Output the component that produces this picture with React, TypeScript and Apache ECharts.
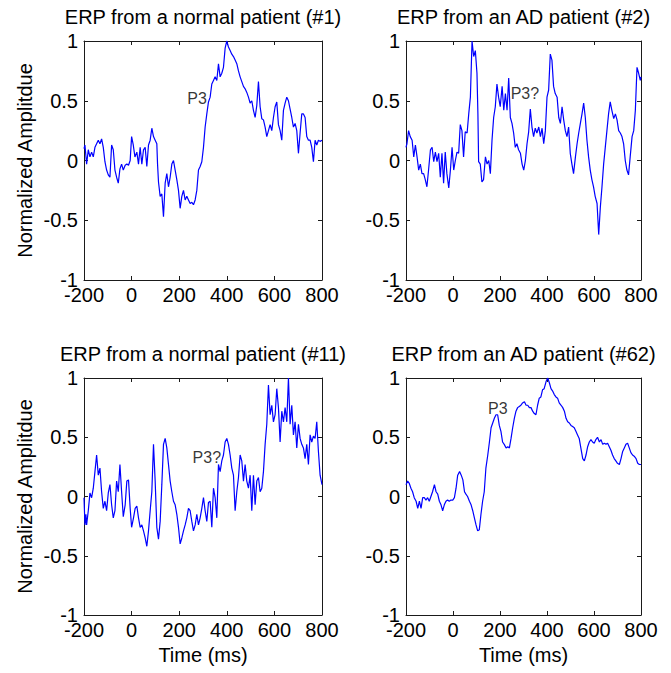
import React, { useEffect, useRef } from "react";
import * as echarts from "echarts";

const panelTitles = [
  "ERP from a normal patient (#1)",
  "ERP from an AD patient (#2)",
  "ERP from a normal patient (#11)",
  "ERP from an AD patient (#62)",
];
const yAxisTitle = "Normalized Amplitdue";
const xAxisTitle = "Time (ms)";
const xTicks = { min: -200, max: 800, interval: 200 };
const yTicks = { min: -1, max: 1, interval: 0.5 };

const annotationTexts = ["P3", "P3?", "P3?", "P3"];
const annotationPoints: [number, number][] = [
  [275, 0.52],
  [306, 0.56],
  [316, 0.33],
  [191, 0.74],
];

const erp1: [number, number][] = [
  [-200,0.10],[-196,0.13],[-189,-0.03],[-182,0.09],[-175,0.03],[-168,0.07],[-161,0.03],[-154,0.11],[-147,0.14],[-140,0.17],[-133,0.14],[-126,0.18],[-119,0.11],[-112,-0.01],[-105,-0.08],[-98,-0.12],[-91,-0.14],[-84,0.13],[-77,0.09],[-70,-0.08],[-63,-0.14],[-56,-0.19],[-49,-0.07],[-42,-0.03],[-35,-0.08],[-27,-0.04],[-20,-0.03],[-13,-0.04],[-6,0.0],[0,0.2],[7,0.13],[14,0.03],[22,0.07],[29,-0.03],[36,0.11],[43,-0.03],[50,0.09],[57,0.11],[64,-0.05],[71,0.13],[78,0.17],[85,0.27],[92,0.2],[99,0.17],[106,0.14],[109,-0.03],[113,-0.18],[120,-0.3],[127,-0.28],[134,-0.47],[141,-0.19],[148,-0.11],[155,-0.22],[162,-0.14],[169,-0.03],[176,0.0],[183,-0.08],[190,-0.16],[197,-0.25],[204,-0.4],[211,-0.3],[218,-0.25],[225,-0.33],[232,-0.3],[239,-0.33],[246,-0.36],[253,-0.35],[260,-0.37],[267,-0.33],[274,-0.25],[281,-0.08],[288,-0.05],[295,-0.01],[302,0.11],[309,0.28],[316,0.39],[323,0.49],[330,0.53],[337,0.64],[344,0.67],[351,0.7],[358,0.67],[365,0.81],[372,0.7],[379,0.73],[386,0.78],[393,0.94],[400,1.0],[407,0.95],[414,0.92],[421,0.89],[428,0.87],[435,0.84],[442,0.81],[449,0.75],[456,0.7],[463,0.66],[470,0.62],[477,0.6],[484,0.57],[491,0.53],[498,0.48],[505,0.5],[512,0.42],[519,0.36],[526,0.46],[533,0.66],[540,0.45],[547,0.35],[554,0.34],[561,0.28],[568,0.2],[575,0.25],[582,0.3],[589,0.25],[596,0.36],[603,0.45],[610,0.49],[617,0.3],[624,0.25],[631,0.17],[638,0.42],[645,0.48],[652,0.53],[659,0.5],[666,0.43],[673,0.36],[680,0.28],[687,0.31],[694,0.25],[701,0.06],[708,0.23],[715,0.39],[722,0.39],[729,0.36],[736,0.2],[743,0.17],[750,0.17],[757,0.11],[764,-0.01],[771,0.17],[778,0.13],[785,0.17],[792,0.16],[800,0.17],
];

const erp2: [number, number][] = [
  [-200,0.11],[-196,0.14],[-189,0.25],[-182,0.2],[-174,0.17],[-167,0.03],[-160,0.13],[-153,0.03],[-146,-0.08],[-139,-0.03],[-132,-0.11],[-125,-0.11],[-118,-0.16],[-111,-0.22],[-104,-0.08],[-96,0.09],[-89,0.11],[-82,-0.01],[-75,0.07],[-68,-0.01],[-61,0.06],[-54,-0.14],[-47,0.06],[-40,-0.19],[-33,0.07],[-26,-0.11],[-18,-0.23],[-11,-0.08],[-4,0.11],[3,-0.08],[10,0.0],[17,0.07],[24,0.06],[31,0.3],[38,0.25],[45,0.03],[52,0.24],[60,0.23],[67,0.39],[74,0.53],[81,1.0],[88,0.87],[95,0.92],[102,0.73],[106,0.39],[109,-0.01],[116,-0.03],[123,-0.18],[130,-0.16],[138,0.03],[145,-0.03],[152,0.0],[159,-0.11],[166,0.17],[173,0.36],[180,0.45],[187,0.64],[194,0.53],[201,0.45],[209,0.62],[216,0.42],[223,0.56],[230,0.42],[237,0.69],[244,0.36],[251,0.31],[258,0.23],[265,0.11],[272,0.14],[279,0.09],[287,0.06],[294,-0.03],[301,-0.08],[308,0.0],[315,0.14],[322,0.24],[329,0.43],[336,0.28],[343,0.2],[350,0.27],[357,0.23],[365,0.28],[372,0.2],[379,0.27],[386,0.14],[393,0.25],[400,0.53],[407,0.59],[414,0.89],[421,0.84],[428,0.62],[435,0.56],[443,0.53],[450,0.36],[457,0.31],[464,0.45],[471,0.34],[478,0.25],[485,0.2],[492,0.28],[499,0.06],[506,-0.03],[513,-0.11],[521,0.03],[528,0.14],[535,0.23],[542,0.31],[549,0.39],[556,0.48],[563,0.36],[570,0.17],[577,0.03],[584,-0.08],[591,-0.16],[598,-0.22],[605,-0.3],[613,-0.36],[620,-0.62],[627,-0.39],[634,-0.22],[641,-0.03],[648,0.11],[655,0.25],[662,0.39],[669,0.49],[676,0.42],[684,0.35],[691,0.39],[698,0.34],[705,0.25],[712,0.23],[719,0.2],[726,0.14],[733,0.0],[740,-0.08],[747,-0.12],[754,0.03],[762,0.2],[769,0.25],[776,0.42],[783,0.78],[790,0.73],[797,0.67],[800,0.7],
];

const erp11: [number, number][] = [
  [-200,-0.01],[-196,-0.24],[-192,-0.15],[-189,-0.24],[-182,-0.12],[-175,0.03],[-168,-0.01],[-161,0.07],[-154,0.21],[-147,0.35],[-140,0.18],[-133,0.24],[-126,0.04],[-119,-0.1],[-112,-0.04],[-105,-0.12],[-98,0.03],[-91,0.1],[-84,-0.07],[-77,-0.18],[-70,-0.12],[-63,0.13],[-56,0.04],[-49,0.27],[-42,0.04],[-35,-0.17],[-27,-0.07],[-20,0.13],[-13,0.14],[-6,-0.1],[0,-0.26],[8,-0.18],[15,-0.1],[22,-0.08],[29,-0.18],[36,-0.26],[43,-0.24],[50,-0.29],[57,-0.35],[64,-0.42],[71,-0.29],[78,-0.12],[85,0.04],[92,0.44],[99,0.13],[106,-0.26],[113,-0.36],[120,-0.21],[127,0.1],[134,0.44],[141,0.49],[148,0.41],[155,0.27],[162,0.13],[169,0.04],[176,-0.04],[183,-0.07],[190,-0.15],[197,-0.26],[204,-0.4],[211,-0.35],[218,-0.29],[225,-0.24],[232,-0.18],[239,-0.1],[246,-0.12],[253,-0.21],[260,-0.29],[267,-0.24],[274,-0.15],[281,-0.24],[288,-0.18],[295,-0.1],[302,-0.01],[309,-0.12],[316,-0.21],[323,-0.05],[330,-0.04],[337,-0.26],[344,0.07],[351,-0.01],[358,-0.18],[365,0.27],[372,0.21],[379,0.3],[386,0.35],[393,0.46],[400,0.49],[407,0.44],[414,0.35],[421,0.24],[428,0.18],[435,-0.12],[442,0.04],[449,0.16],[456,0.35],[463,0.3],[470,0.13],[477,0.27],[484,0.13],[491,0.07],[498,0.18],[505,-0.12],[512,0.18],[519,-0.07],[526,0.13],[533,0.16],[540,0.04],[547,0.07],[554,0.21],[561,0.44],[568,0.61],[575,0.94],[582,0.69],[589,0.77],[596,0.63],[603,0.69],[610,0.91],[617,0.75],[624,0.46],[631,0.72],[638,0.63],[645,0.75],[652,0.63],[659,1.0],[666,0.61],[673,0.77],[680,0.52],[687,0.63],[694,0.41],[701,0.61],[708,0.49],[715,0.44],[722,0.41],[729,0.32],[736,0.44],[743,0.27],[750,0.52],[757,0.46],[764,0.51],[771,0.49],[778,0.63],[785,0.38],[792,0.18],[800,0.1],
];

const erp62: [number, number][] = [
  [-200,0.1],[-193,0.13],[-186,0.11],[-179,0.07],[-172,0.04],[-165,-0.01],[-157,-0.04],[-150,-0.1],[-143,-0.04],[-136,-0.1],[-129,-0.01],[-122,-0.01],[-115,-0.03],[-108,-0.01],[-101,-0.04],[-94,0.0],[-87,0.04],[-79,0.1],[-72,0.04],[-65,0.02],[-58,-0.04],[-51,-0.07],[-44,-0.12],[-37,-0.07],[-30,-0.04],[-23,-0.03],[-16,-0.04],[-9,-0.03],[-1,-0.03],[6,-0.01],[13,0.07],[20,0.18],[28,0.21],[35,0.18],[42,0.14],[49,0.04],[55,0.02],[62,0.0],[70,-0.04],[77,-0.07],[84,-0.12],[91,-0.18],[98,-0.24],[105,-0.29],[112,-0.28],[119,-0.15],[126,-0.04],[133,0.04],[140,0.24],[148,0.35],[155,0.46],[162,0.58],[169,0.62],[176,0.66],[183,0.69],[190,0.69],[197,0.6],[204,0.55],[211,0.46],[218,0.44],[226,0.41],[233,0.42],[240,0.41],[247,0.49],[254,0.58],[261,0.66],[268,0.72],[275,0.75],[282,0.76],[289,0.77],[296,0.79],[304,0.8],[311,0.77],[318,0.77],[325,0.75],[332,0.75],[339,0.72],[346,0.7],[353,0.69],[360,0.77],[367,0.83],[374,0.84],[381,0.9],[388,0.91],[396,0.97],[403,1.0],[410,0.96],[417,0.91],[424,0.89],[431,0.86],[438,0.84],[445,0.83],[452,0.79],[460,0.77],[467,0.75],[474,0.72],[481,0.66],[488,0.63],[495,0.62],[502,0.6],[509,0.59],[516,0.58],[523,0.55],[530,0.52],[537,0.49],[544,0.41],[552,0.32],[559,0.3],[566,0.35],[573,0.42],[580,0.46],[587,0.48],[594,0.46],[601,0.45],[608,0.48],[615,0.5],[623,0.46],[630,0.48],[637,0.44],[644,0.45],[651,0.44],[658,0.45],[665,0.42],[672,0.39],[679,0.35],[686,0.32],[693,0.3],[700,0.28],[708,0.27],[715,0.32],[722,0.38],[729,0.41],[736,0.44],[743,0.45],[750,0.41],[757,0.37],[764,0.35],[771,0.34],[779,0.32],[786,0.28],[793,0.27],[800,0.27],
];

const panelData = [erp1, erp2, erp11, erp62];

const FONT = '"Liberation Sans", Arial, sans-serif';
const TEXT_COLOR = "#000";
const AXIS_COLOR = "#1a1a1a";
const LINE_COLOR = "#0000ff";

const gridBoxes = [
  { left: 84, top: 41, width: 238, height: 239 },
  { left: 406, top: 41, width: 235, height: 239 },
  { left: 84, top: 378, width: 238, height: 237 },
  { left: 406, top: 378, width: 235, height: 237 },
];

export default function App() {
  const ref = useRef<HTMLDivElement>(null);

  useEffect(() => {
    if (!ref.current) return;
    const chart = echarts.init(ref.current, undefined, { renderer: "svg" });

    const xAxes: any[] = [];
    const yAxes: any[] = [];
    const series: any[] = [];

    gridBoxes.forEach((_, i) => {
      const tickStyle = { show: true, inside: true, length: 4, lineStyle: { color: AXIS_COLOR } };
      xAxes.push({
        type: "value",
        gridIndex: i,
        position: "bottom",
        min: xTicks.min,
        max: xTicks.max,
        interval: xTicks.interval,
        axisLine: { show: true, onZero: false, lineStyle: { color: AXIS_COLOR } },
        axisTick: tickStyle,
        splitLine: { show: false },
        axisLabel: { show: true, margin: 5, color: TEXT_COLOR, fontFamily: FONT, fontSize: 20 },
      });
      xAxes.push({
        type: "value",
        gridIndex: i,
        position: "top",
        min: xTicks.min,
        max: xTicks.max,
        interval: xTicks.interval,
        axisLine: { show: true, onZero: false, lineStyle: { color: AXIS_COLOR } },
        axisTick: tickStyle,
        splitLine: { show: false },
        axisLabel: { show: false },
      });
      yAxes.push({
        type: "value",
        gridIndex: i,
        position: "left",
        min: yTicks.min,
        max: yTicks.max,
        interval: yTicks.interval,
        axisLine: { show: true, onZero: false, lineStyle: { color: AXIS_COLOR } },
        axisTick: tickStyle,
        splitLine: { show: false },
        axisLabel: { show: true, margin: 6, color: TEXT_COLOR, fontFamily: FONT, fontSize: 20 },
      });
      yAxes.push({
        type: "value",
        gridIndex: i,
        position: "right",
        min: yTicks.min,
        max: yTicks.max,
        interval: yTicks.interval,
        axisLine: { show: true, onZero: false, lineStyle: { color: AXIS_COLOR } },
        axisTick: tickStyle,
        splitLine: { show: false },
        axisLabel: { show: false },
      });

      series.push({
        type: "line",
        xAxisIndex: 2 * i,
        yAxisIndex: 2 * i,
        data: panelData[i],
        showSymbol: false,
        symbol: "none",
        lineStyle: { color: LINE_COLOR, width: 1.2 },
        clip: true,
        z: 2,
      });
      series.push({
        type: "scatter",
        xAxisIndex: 2 * i,
        yAxisIndex: 2 * i,
        data: [annotationPoints[i]],
        symbolSize: 1,
        itemStyle: { color: "rgba(0,0,0,0)" },
        label: {
          show: true,
          position: "inside",
          formatter: annotationTexts[i],
          color: TEXT_COLOR,
          fontFamily: FONT,
          fontSize: 16,
        },
        z: 3,
      });
    });

    const titleCenters = gridBoxes.map((g) => g.left + g.width / 2);
    const graphic: any[] = [];
    gridBoxes.forEach((g, i) => {
      graphic.push({
        type: "text",
        x: titleCenters[i],
        y: i < 2 ? 17 : 354,
        style: {
          text: panelTitles[i],
          fill: TEXT_COLOR,
          font: `20px ${FONT}`,
          align: "center",
          verticalAlign: "middle",
        },
      });
    });
    [0, 2].forEach((i) => {
      const g = gridBoxes[i];
      graphic.push({
        type: "text",
        x: 25,
        y: g.top + g.height / 2,
        rotation: Math.PI / 2,
        style: {
          text: yAxisTitle,
          fill: TEXT_COLOR,
          font: `20px ${FONT}`,
          align: "center",
          verticalAlign: "middle",
        },
      });
    });
    [2, 3].forEach((i) => {
      graphic.push({
        type: "text",
        x: titleCenters[i],
        y: 655,
        style: {
          text: xAxisTitle,
          fill: TEXT_COLOR,
          font: `20px ${FONT}`,
          align: "center",
          verticalAlign: "middle",
        },
      });
    });

    chart.setOption({
      animation: false,
      backgroundColor: "#fff",
      grid: gridBoxes.map((g) => ({ ...g, containLabel: false })),
      xAxis: xAxes,
      yAxis: yAxes,
      series,
      graphic,
    });

    return () => chart.dispose();
  }, []);

  return (
    <div
      ref={ref}
      style={{ position: "absolute", left: 0, top: 0, width: 671, height: 673 }}
    />
  );
}
